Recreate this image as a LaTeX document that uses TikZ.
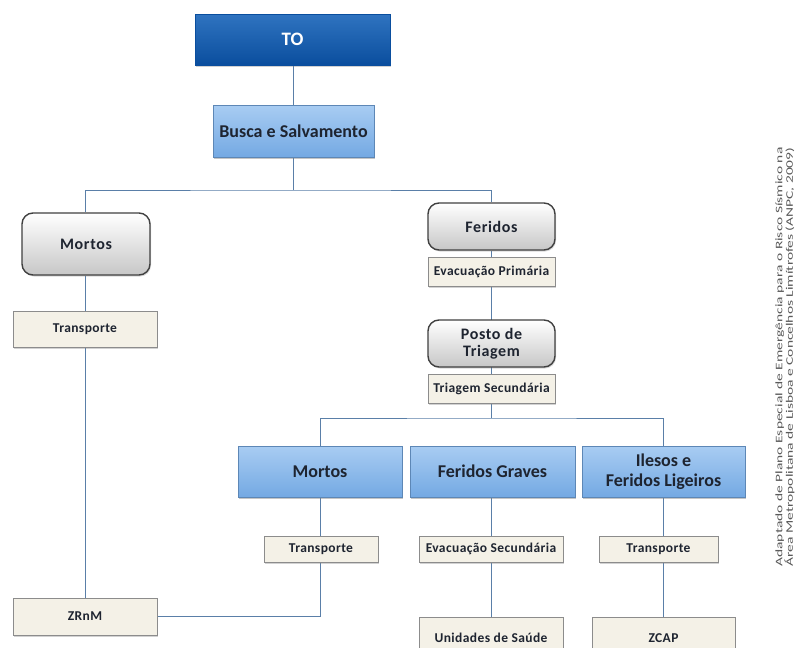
\documentclass[tikz,border=0pt]{standalone}
\usepackage{fontspec}
\setmainfont{Carlito}
\usetikzlibrary{shadows,calc}
\pgfdeclarelayer{paper}
\pgfdeclarelayer{links}
\pgfsetlayers{paper,links,main}
\definecolor{linkblue}{HTML}{5A7FA8}
\definecolor{todark}{HTML}{0B5BB5}
\definecolor{todarkb}{HTML}{0A4E9E}
\definecolor{lbtop}{HTML}{A8CCF2}
\definecolor{lbbot}{HTML}{74A9E3}
\definecolor{beige}{HTML}{F4F1E7}
\definecolor{notegray}{HTML}{5A5A5A}
\definecolor{inkdark}{HTML}{1E2430}
\tikzset{
  link/.style={draw=linkblue, line width=0.9pt},
  topbox/.style={draw=todarkb, line width=0.6pt, top color=todark!85!white, bottom color=todarkb,
    text=white, font=\bfseries\fontsize{19}{21}\selectfont,
    drop shadow={opacity=0.35, shadow xshift=1pt, shadow yshift=-1.5pt}},
  bluebox/.style={draw=lbbot!80!black, line width=0.4pt, top color=lbtop, bottom color=lbbot,
    text=inkdark, font=\bfseries\fontsize{18}{20}\selectfont, align=center,
    drop shadow={opacity=0.45, shadow xshift=1pt, shadow yshift=-1.5pt}},
  graybox/.style={draw=black!75, line width=1.4pt, rounded corners=11pt, top color=white, bottom color=black!22,
    text=inkdark, font=\bfseries\fontsize{16}{18}\selectfont\addfontfeatures{LetterSpace=4}, align=center,
    drop shadow={opacity=0.3, shadow xshift=1pt, shadow yshift=-1.5pt}},
  smallbox/.style={draw=black!45, line width=0.6pt, fill=beige, inner xsep=1pt,
    text=inkdark, font=\bfseries\fontsize{13.5}{15}\selectfont\addfontfeatures{LetterSpace=3},
    drop shadow={opacity=0.35, shadow xshift=1pt, shadow yshift=-1.5pt}},
}
\begin{document}
\begin{tikzpicture}[x=1pt,y=-1pt]
\useasboundingbox (0,0) rectangle (796,648);
\begin{pgfonlayer}{paper}
\fill[white] (0,0) rectangle (796,648);
\end{pgfonlayer}

% top of the hierarchy
\node[topbox, minimum width=195pt, minimum height=51pt] (to) at (292.5,39.5) {TO};
\node[bluebox, minimum width=161pt, minimum height=52pt] (busca) at (293.5,131) {Busca e Salvamento};

% left branch
\node[graybox, minimum width=128pt, minimum height=62pt] (mortosA) at (86,244) {Mortos};
\node[smallbox, minimum width=144pt, minimum height=36pt] (transpA) at (85,329) {Transporte};
\node[smallbox, minimum width=144pt, minimum height=37pt] (zrnm) at (85,616.5) {ZRnM};

% right branch
\node[graybox, minimum width=127pt, minimum height=47pt] (feridos) at (491.5,226.5) {Feridos};
\node[smallbox, minimum width=127pt, minimum height=29pt] (evacP) at (491.5,271.5) {Evacuação Primária};
\node[graybox, minimum width=127pt, minimum height=47pt] (posto) at (491.5,343.5) {Posto de\\[-1pt]Triagem};
\node[smallbox, minimum width=127pt, minimum height=29pt] (triagS) at (491.5,388.5) {Triagem Secundária};

% triage outcomes
\node[bluebox, minimum width=164pt, minimum height=51pt] (mortosB) at (320,471.5) {Mortos};
\node[bluebox, minimum width=165pt, minimum height=51pt] (fgraves) at (492.5,471.5) {Feridos Graves};
\node[bluebox, minimum width=163pt, minimum height=51pt] (ilesos) at (663.5,471.5) {Ilesos e\\Feridos Ligeiros};

\node[smallbox, minimum width=114pt, minimum height=26pt] (transpB) at (321,549) {Transporte};
\node[smallbox, minimum width=144pt, minimum height=26pt] (evacS) at (491,549) {Evacuação Secundária};
\node[smallbox, minimum width=119pt, minimum height=26pt] (transpC) at (658.5,549) {Transporte};

\node[smallbox, minimum width=144pt, minimum height=42pt] (unid) at (491,638) {Unidades de Saúde};
\node[smallbox, minimum width=143pt, minimum height=42pt] (zcap) at (663.5,638) {ZCAP};

% connectors, kept behind the boxes; every drop is a true vertical
\coordinate (split1) at (293,190);
\coordinate (split2) at (491.5,418);
\begin{pgfonlayer}{links}
\draw[link] (split1 |- to.south) -- (split1);
\draw[link] (mortosA.north -| transpA) |- (split1) -| (feridos.north);
\draw[link] (transpA |- mortosA.south) -- (zrnm.north);
\draw[link] (feridos.south) -- (triagS.south) -- (split2);
\draw[link] (mortosB.north) |- (split2) -| (ilesos.north);
\draw[link] (mortosB.south) -- (mortosB |- zrnm.east) -- (zrnm.east);
\draw[link] (evacS |- fgraves.south) -- (unid.north);
\draw[link] (ilesos.south) -- (ilesos.south |- zcap.north);
\end{pgfonlayer}

% source note
\node[rotate=90, xscale=1.55, text=notegray, font=\fontsize{10}{10.5}\selectfont, align=center] (note) at (785,357)
  {Adaptado de Plano Especial de Emergência para o Risco Sísmico na\\Área Metropolitana de Lisboa e Concelhos Limítrofes (ANPC, 2009)};
\end{tikzpicture}
\end{document}
